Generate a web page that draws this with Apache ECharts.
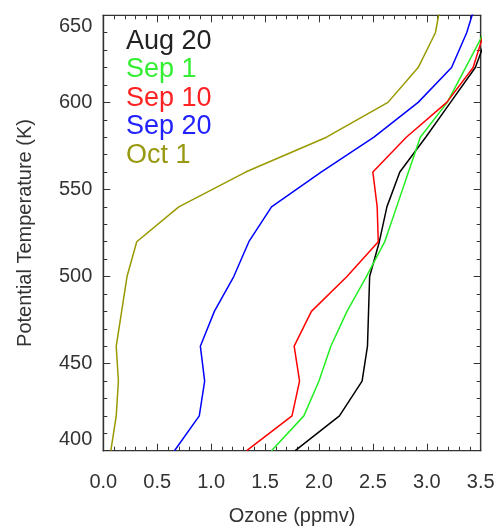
<!DOCTYPE html>
<html><head><meta charset="utf-8">
<script src="https://cdn.jsdelivr.net/npm/echarts@6/dist/echarts.min.js"></script>
<style>html,body{margin:0;padding:0;background:#fff}#c{width:499px;height:528px}</style>
</head><body><div id="c"></div>
<script>
const levels = [400,420,440,460,480,500,520,540,560,580,600,620,640,660];
const aug20 = [1.78,2.19,2.40,2.45,2.46,2.47,2.56,2.63,2.75,2.99,3.22,3.45,3.57];
const sep1  = [1.56,1.86,2.00,2.11,2.26,2.44,2.61,2.72,2.83,2.94,3.19,3.36,3.53];
const sep10 = [1.33,1.75,1.82,1.77,1.93,2.26,2.55,2.54,2.50,2.81,3.185,3.43,3.53];
const sep20 = [0.66,0.89,0.94,0.90,1.03,1.21,1.35,1.56,2.02,2.51,2.92,3.23,3.37,3.47];
const oct1  = [0.07,0.12,0.14,0.12,0.17,0.22,0.31,0.70,1.32,2.07,2.64,2.92,3.08,3.14];
const names = ['Aug 20','Sep 1','Sep 10','Sep 20','Oct 1'];
const colors = ['#000000','#22ee22','#ff0000','#0000ff','#999900'];
const textColors = ['#222222','#33ee33','#ff2222','#2222ff','#999911'];
const seriesVals = [aug20, sep1, sep10, sep20, oct1];
const xTitle = 'Ozone (ppmv)';
const yTitle = 'Potential Temperature (K)';

const W = 499, H = 528;
const G = {left:103.3, right:18.3, top:15.3, bottom:77.3};
const PW = W - G.left - G.right, PH = H - G.top - G.bottom;
const axisCol = '#333333';
const font = 'Liberation Sans, Arial, Helvetica, sans-serif';

const chart = echarts.init(document.getElementById('c'), null, {renderer:'canvas'});

function xTicks(gridIndex, position){
  return {type:'value', gridIndex, position, offset:-PH, min:0, max:3.5, interval:0.5,
    splitLine:{show:false}, minorSplitLine:{show:false},
    axisLine:{show:true, onZero:false, lineStyle:{color:axisCol, width:1.2}},
    axisLabel:{show:false},
    axisTick:{show:true, length:7, lineStyle:{color:axisCol, width:1}},
    minorTick:{show:true, splitNumber:5, length:4, lineStyle:{color:axisCol, width:1}}};
}
function yTicks(gridIndex, position){
  return {type:'value', gridIndex, position, offset:-PW, min:400, max:650, interval:50,
    splitLine:{show:false}, minorSplitLine:{show:false},
    axisLine:{show:true, onZero:false, lineStyle:{color:axisCol, width:1.2}},
    axisLabel:{show:false},
    axisTick:{show:true, length:7, lineStyle:{color:axisCol, width:1}},
    minorTick:{show:true, splitNumber:5, length:4, lineStyle:{color:axisCol, width:1}}};
}
const lblStyle = {fontSize:20, color:'#333', fontFamily:font};

const legendTexts = names.map((n,i)=>({type:'text', left:126, top:28 + i*28.5, silent:true,
  style:{text:n, fontSize:27, fontFamily:font, fill:textColors[i]}}));

chart.setOption({
  animation:false,
  grid:[
    Object.assign({show:true, borderColor:axisCol, borderWidth:1.2, backgroundColor:'transparent', containLabel:false}, G),
    Object.assign({show:false, containLabel:false}, G)
  ],
  xAxis:[
    {type:'value', gridIndex:0, position:'bottom', min:0, max:3.5, interval:0.5,
      splitLine:{show:false}, minorSplitLine:{show:false},
      axisLine:{show:true, onZero:false, lineStyle:{color:axisCol, width:1.2}},
      axisTick:{show:false}, minorTick:{show:false},
      axisLabel:{show:true, margin:22, fontSize:20, color:'#333', fontFamily:font, formatter:v=>v.toFixed(1)}},
    xTicks(0, 'top'),
    xTicks(1, 'bottom')
  ],
  yAxis:[
    {type:'value', gridIndex:0, position:'left', min:400, max:650, interval:50,
      splitLine:{show:false}, minorSplitLine:{show:false},
      axisLine:{show:true, onZero:false, lineStyle:{color:axisCol, width:1.2}},
      axisTick:{show:false}, minorTick:{show:false},
      axisLabel:{show:true, margin:11, fontSize:20, color:'#333', fontFamily:font,
        formatter:v=> v===650 ? '{t|650}' : (v===400 ? '{b|400}' : String(v)),
        rich:{t:Object.assign({padding:[22,0,0,0]}, lblStyle), b:Object.assign({padding:[0,0,22,0]}, lblStyle)}}},
    yTicks(0, 'right'),
    yTicks(1, 'left')
  ],
  graphic:[
    {type:'text', x:G.left + PW/2, y:516, silent:true,
      style:{text:xTitle, fontSize:20, fontFamily:font, fill:'#333', align:'center', verticalAlign:'middle'}},
    {type:'text', x:25, y:G.top + PH/2, rotation:Math.PI/2, silent:true,
      style:{text:yTitle, fontSize:20, fontFamily:font, fill:'#333', align:'center', verticalAlign:'middle'}}
  ].concat(legendTexts),
  series: names.map((n,i)=>({
    name:n, type:'line', xAxisIndex:0, yAxisIndex:0, symbol:'none', clip:true,
    data: seriesVals[i].map((v,k)=>[v, levels[k]]),
    lineStyle:{color:colors[i], width:1.5}, itemStyle:{color:colors[i]}
  }))
});
</script></body></html>
